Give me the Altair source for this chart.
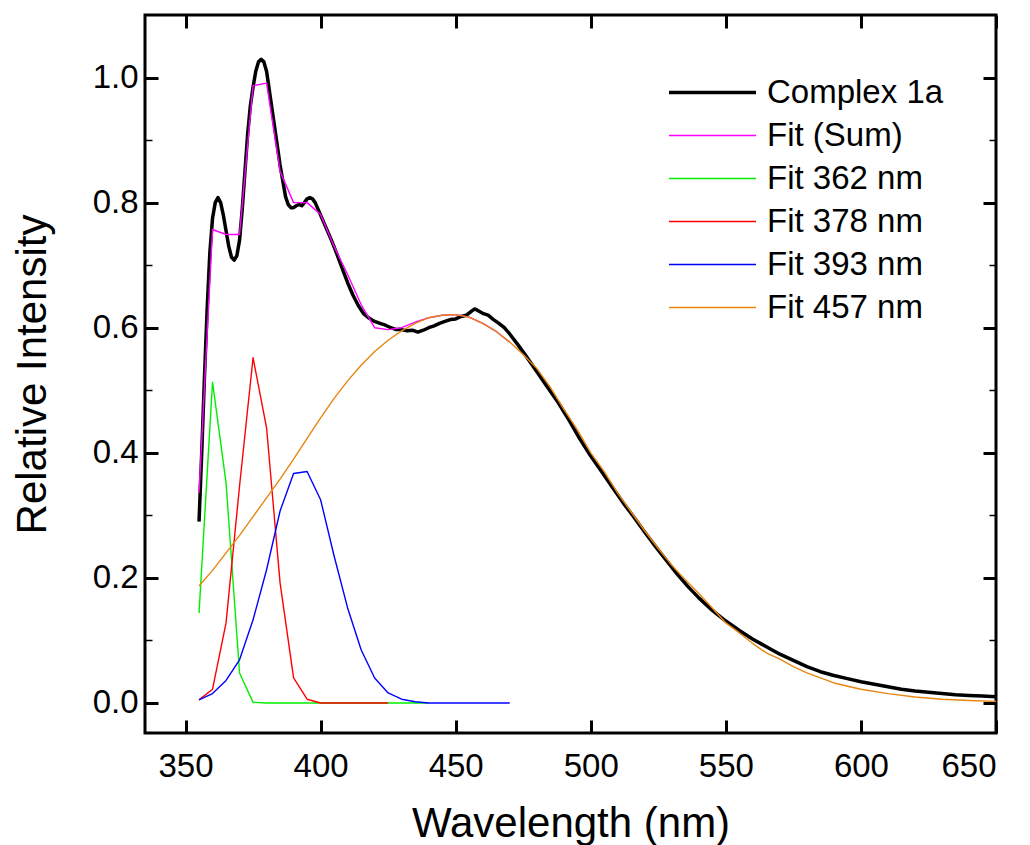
import altair as alt
import pandas as pd

# ---- data ----
black_nm = [355, 356, 357, 358, 359, 360, 361, 362, 363, 364, 365, 366, 367, 368, 369, 370,
            371, 372, 373, 374, 375, 376, 377, 378, 379, 380, 381, 382, 383, 384, 385, 386,
            387, 388, 389, 390, 391, 392, 393, 394, 395, 396, 397, 398, 399, 400, 402, 404,
            406, 408, 410, 412, 414, 416, 418, 420, 422, 424, 426, 428, 430, 432, 434, 436,
            438, 440, 442, 444, 446, 448, 450, 452, 454, 456, 457, 458, 460, 462, 464, 466,
            468, 470, 473, 476, 480, 484, 488, 492, 496, 500, 504, 508, 512, 516, 520, 524,
            528, 532, 536, 540, 545, 550, 555, 560, 565, 570, 575, 580, 585, 590, 595, 600,
            605, 610, 615, 620, 625, 630, 635, 640, 645, 650]
black_val = [0.29, 0.40, 0.52, 0.63, 0.72, 0.775, 0.80, 0.808, 0.80, 0.78, 0.755, 0.73, 0.713,
             0.708, 0.715, 0.74, 0.79, 0.85, 0.91, 0.955, 0.985, 1.01, 1.025, 1.029, 1.025, 1.01,
             0.98, 0.95, 0.92, 0.89, 0.86, 0.835, 0.81, 0.797, 0.792, 0.792, 0.795, 0.797, 0.795,
             0.80, 0.806, 0.808, 0.806, 0.80, 0.79, 0.78, 0.76, 0.74, 0.718, 0.695, 0.672, 0.652,
             0.635, 0.622, 0.615, 0.61, 0.607, 0.604, 0.60, 0.597, 0.597, 0.595, 0.596, 0.593,
             0.596, 0.60, 0.603, 0.607, 0.61, 0.613, 0.614, 0.618, 0.62, 0.627, 0.630, 0.628,
             0.623, 0.62, 0.613, 0.607, 0.60, 0.59, 0.573, 0.555, 0.53, 0.505, 0.48, 0.452, 0.422,
             0.395, 0.37, 0.345, 0.32, 0.297, 0.273, 0.25, 0.228, 0.206, 0.186, 0.168, 0.148,
             0.131, 0.116, 0.102, 0.09, 0.078, 0.068, 0.058, 0.05, 0.044, 0.039, 0.034, 0.03,
             0.026, 0.022, 0.019, 0.017, 0.015, 0.013, 0.012, 0.011, 0.010]

sum_nm = [355, 360, 365, 370, 375, 380, 385, 390, 395, 400, 405, 410, 415, 420, 425, 430,
          435, 440, 445, 450, 455, 460, 465, 470]
sum_val = [0.336, 0.757, 0.749, 0.749, 0.987, 0.991, 0.85, 0.80, 0.80, 0.781, 0.73, 0.685,
           0.637, 0.60, 0.597, 0.600, 0.609, 0.616, 0.62, 0.621, 0.617, 0.607, 0.594, 0.577]

g_nm = [355, 360, 365, 370, 375, 380, 385, 390, 395, 400, 405, 410, 415, 420, 425, 430, 435, 440]
g_val = [0.144, 0.513, 0.352, 0.048, 0.001, 0, 0, 0, 0, 0, 0, 0, 0, 0, 0, 0, 0, 0]

r_nm = [355, 360, 365, 370, 375, 380, 385, 390, 395, 400, 405, 410, 415, 420, 425]
r_val = [0.005, 0.022, 0.128, 0.347, 0.552, 0.44, 0.192, 0.04, 0.006, 0, 0, 0, 0, 0, 0]

b_nm = [355, 360, 365, 370, 375, 380, 385, 390, 395, 400, 405, 410, 415, 420, 425, 430,
        435, 440, 445, 450, 455, 460, 465, 470]
b_val = [0.005, 0.015, 0.036, 0.069, 0.133, 0.213, 0.307, 0.367, 0.37, 0.325, 0.235, 0.152,
         0.085, 0.04, 0.016, 0.006, 0.002, 0, 0, 0, 0, 0, 0, 0]

o_nm = [355, 360, 365, 370, 375, 380, 385, 390, 395, 400, 405, 410, 415, 420, 425, 430, 435,
        440, 445, 450, 455, 460, 465, 470, 475, 480, 485, 490, 495, 500, 505, 510, 515, 520,
        525, 530, 535, 540, 545, 550, 555, 560, 565, 570, 575, 580, 590, 600, 610, 620, 630,
        640, 650]
o_val = [0.187, 0.212, 0.24, 0.268, 0.298, 0.328, 0.358, 0.39, 0.423, 0.456, 0.487, 0.515,
         0.54, 0.562, 0.58, 0.595, 0.607, 0.616, 0.62, 0.621, 0.617, 0.607, 0.594, 0.577,
         0.557, 0.535, 0.505, 0.47, 0.437, 0.40, 0.37, 0.335, 0.305, 0.275, 0.247, 0.22,
         0.197, 0.175, 0.152, 0.128, 0.112, 0.095, 0.08, 0.07, 0.058, 0.048, 0.032, 0.022,
         0.015, 0.0095, 0.006, 0.004, 0.0025]

series_names = ["Complex 1a", "Fit (Sum)", "Fit 362 nm", "Fit 378 nm", "Fit 393 nm", "Fit 457 nm"]
series_colors = ["#000000", "#FF00FF", "#00EE00", "#FF0000", "#0000FF", "#E8860F"]
series_widths = [3.5, 1.4, 1.4, 1.4, 1.4, 1.4]

x_ticks = [350, 400, 450, 500, 550, 600, 650]
y_ticks = [0.0, 0.2, 0.4, 0.6, 0.8, 1.0]
y_minor = [0.1, 0.3, 0.5, 0.7, 0.9]

rows = []
for name, xs, ys in zip(series_names,
                        [black_nm, sum_nm, g_nm, r_nm, b_nm, o_nm],
                        [black_val, sum_val, g_val, r_val, b_val, o_val]):
    for a, b in zip(xs, ys):
        rows.append({"series": name, "nm": a, "val": b})
df = pd.DataFrame(rows)

FONT = "Liberation Sans"
XDOM = [335, 650]
YDOM = [-0.048, 1.1]
TICK = 13
MINOR = 7

xs = alt.Scale(domain=XDOM, nice=False, zero=False)
ys = alt.Scale(domain=YDOM, nice=False, zero=False)

color = alt.Color("series:N", scale=alt.Scale(domain=series_names, range=series_colors),
                  legend=alt.Legend(title=None))
width_enc = alt.StrokeWidth("series:N",
                            scale=alt.Scale(type="ordinal", domain=series_names, range=series_widths),
                            legend=alt.Legend(title=None))

base = alt.Chart(df)

layers = []
for i, name in enumerate(series_names):
    if i == 0:
        xa = alt.Axis(values=x_ticks, tickSize=TICK, offset=-TICK, domain=False, grid=False,
                      tickWidth=3, tickColor="black", labelFont=FONT, labelFontSize=33,
                      labelColor="black", labelPadding=17, title="Wavelength (nm)",
                      titleFont=FONT, titleFontSize=42, titleFontWeight="normal",
                      titleColor="black", titlePadding=20)
        ya = alt.Axis(values=y_ticks, format=".1f", tickSize=TICK, offset=-TICK, domain=False,
                      grid=False, tickWidth=3, tickColor="black", labelFont=FONT,
                      labelFontSize=33, labelColor="black", labelPadding=7,
                      title="Relative Intensity", titleFont=FONT, titleFontSize=42,
                      titleFontWeight="normal", titleColor="black", titlePadding=38)
    else:
        xa = None
        ya = None
    layers.append(
        base.transform_filter(alt.datum.series == name)
        .mark_line(clip=True, strokeJoin="round")
        .encode(x=alt.X("nm:Q", scale=xs, axis=xa),
                y=alt.Y("val:Q", scale=ys, axis=ya),
                color=color, strokeWidth=width_enc,
                detail="series:N")
    )


def tick_layer(x_axis, y_axis):
    return base.mark_point(opacity=0).encode(
        x=alt.X("nm:Q", scale=xs, axis=x_axis),
        y=alt.Y("val:Q", scale=ys, axis=y_axis),
    )


top_axis = alt.Axis(orient="top", values=x_ticks, tickSize=TICK, offset=-TICK, domain=False,
                    grid=False, labels=False, tickWidth=3, tickColor="black", title=None)
right_axis = alt.Axis(orient="right", values=y_ticks, tickSize=TICK, offset=-TICK, domain=False,
                      grid=False, labels=False, tickWidth=3, tickColor="black", title=None)
left_minor = alt.Axis(orient="left", values=y_minor, tickSize=MINOR, offset=-MINOR, domain=False,
                      grid=False, labels=False, tickWidth=1.5, tickColor="black", title=None)
right_minor = alt.Axis(orient="right", values=y_minor, tickSize=MINOR, offset=-MINOR, domain=False,
                       grid=False, labels=False, tickWidth=1.5, tickColor="black", title=None)

layers.append(tick_layer(top_axis, right_axis))
layers.append(tick_layer(None, left_minor))
layers.append(tick_layer(None, right_minor))

# legend line sample: a custom path 4x wider than the nominal symbol size
SYM = 21.75  # nominal symbol size (sqrt of area); drawn line is 4x this long

chart = (
    alt.layer(*layers)
    .resolve_axis(x="independent", y="independent")
    .properties(width=851, height=718,
                padding={"left": 137, "top": 7, "right": 25, "bottom": 115},
                autosize=alt.AutoSizeParams(type="none"))
    .configure_view(stroke="black", strokeWidth=3)
    .configure_legend(orient="none", legendX=551, legendY=61, labelFont=FONT,
                      labelFontSize=33, labelColor="black", symbolType="M-4,0H4",
                      symbolSize=SYM * SYM, labelOffset=38, rowPadding=9, padding=0,
                      labelLimit=400)
)

chart.save("out.html", embed_options={"renderer": "svg", "actions": False})
